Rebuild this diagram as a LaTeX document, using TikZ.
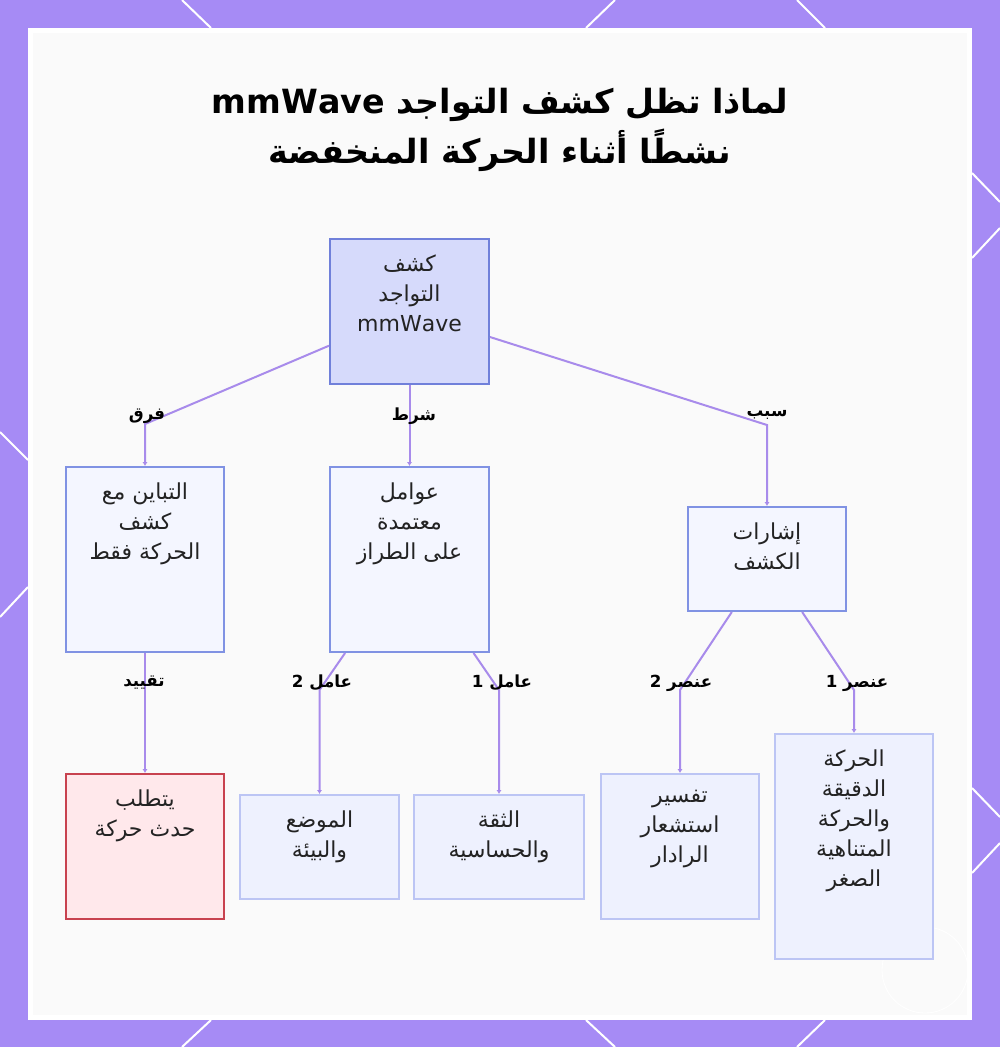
\documentclass[tikz,border=0pt]{standalone}
\usepackage{fontspec}
\setmainfont{DejaVu Sans}
\newfontfamily\arabicfont[Script=Arabic]{DejaVu Sans}
\TeXXeTstate=1
\usepackage{tikz}
\usetikzlibrary{arrows.meta,calc}
\definecolor{frame}{RGB}{166,139,245}
\definecolor{paper}{RGB}{250,250,250}
\definecolor{edgecol}{RGB}{168,139,235}
\definecolor{topfill}{RGB}{214,218,251}
\definecolor{topline}{RGB}{112,128,218}
\definecolor{midfill}{RGB}{244,246,255}
\definecolor{midline}{RGB}{128,146,227}
\definecolor{leaffill}{RGB}{238,241,254}
\definecolor{leafline}{RGB}{188,197,244}
\definecolor{warnfill}{RGB}{255,232,235}
\definecolor{warnline}{RGB}{200,66,79}
\definecolor{ink}{RGB}{35,35,35}
\newcommand{\rl}[1]{\beginR #1\endR}

\begin{document}
\begin{tikzpicture}[x=0.75pt,y=-0.75pt,
  box/.style={line width=1.5pt, inner sep=0pt},
  topbox/.style={box, draw=topline, fill=topfill},
  midbox/.style={box, draw=midline, fill=midfill},
  leafbox/.style={box, draw=leafline, fill=leaffill},
  warnbox/.style={box, draw=warnline, fill=warnfill},
  boxtext/.style={anchor=north, align=center, inner sep=0pt, text=ink,
    font=\arabicfont\fontsize{16.5}{22.5}\selectfont},
  edge/.style={draw=edgecol, line width=1.5pt, -{Latex[length=3pt,width=4pt]}},
  elabel/.style={inner sep=1pt, text=black,
    font=\arabicfont\bfseries\fontsize{12.5}{14}\selectfont}]
\useasboundingbox (0,0) rectangle (1000,1047);

% frame
\fill[frame] (0,0) rectangle (1000,1047);
\foreach \xa/\ya/\xb/\yb in {182/0/211/28, 615/0/586/28, 797/0/825/28,
  211/1020/182/1047, 586/1020/615/1047, 825/1020/797/1047,
  0/432/28/460, 28/587/0/617, 972/173/1000/202, 1000/228/972/258,
  972/788/1000/817, 1000/843/972/873}
  \draw[white, line width=1.5pt] (\xa,\ya) -- (\xb,\yb);
\fill[white] (28,28) rectangle (972,1020);
\fill[paper] (33,33) rectangle (967,1015);
\draw[white, line width=0.6pt] (925,970) circle[radius=43];

% title
\node[align=center, text=black, font=\arabicfont\bfseries\fontsize{25}{37.5}\selectfont] (title) at (500,130)
  {\rl{لماذا تظل كشف التواجد \beginL mmWave\endL}\\ \rl{نشطًا أثناء الحركة المنخفضة}};

% boxes
\node[topbox, minimum width=159*.75pt, minimum height=145*.75pt] (top) at (409.5,311.5) {};
\node[midbox, minimum width=158*.75pt, minimum height=185*.75pt] (diff) at (145,559.5) {};
\node[midbox, minimum width=159*.75pt, minimum height=185*.75pt] (cond) at (409.5,559.5) {};
\node[midbox, minimum width=158*.75pt, minimum height=104*.75pt] (sig) at (767,559) {};
\node[warnbox, minimum width=158*.75pt, minimum height=145*.75pt] (req) at (145,846.5) {};
\node[leafbox, minimum width=159*.75pt, minimum height=104*.75pt] (env) at (319.5,847) {};
\node[leafbox, minimum width=170*.75pt, minimum height=104*.75pt] (conf) at (499,847) {};
\node[leafbox, minimum width=158*.75pt, minimum height=145*.75pt] (radar) at (680,846.5) {};
\node[leafbox, minimum width=158*.75pt, minimum height=225*.75pt] (micro) at (854,846.5) {};

\node[boxtext] (topT) at ([yshift=-12.5pt]top.north) {\rl{كشف}\\ \rl{التواجد}\\ mmWave};
\node[boxtext] (diffT) at ([yshift=-12.5pt]diff.north) {\rl{التباين مع}\\ \rl{كشف}\\ \rl{الحركة فقط}};
\node[boxtext] (condT) at ([yshift=-12.5pt]cond.north) {\rl{عوامل}\\ \rl{معتمدة}\\ \rl{على الطراز}};
\node[boxtext] (sigT) at ([yshift=-12.5pt]sig.north) {\rl{إشارات}\\ \rl{الكشف}};
\node[boxtext] (reqT) at ([yshift=-12.5pt]req.north) {\rl{يتطلب}\\ \rl{حدث حركة}};
\node[boxtext] (envT) at ([yshift=-12.5pt]env.north) {\rl{الموضع}\\ \rl{والبيئة}};
\node[boxtext] (confT) at ([yshift=-12.5pt]conf.north) {\rl{الثقة}\\ \rl{والحساسية}};
\node[boxtext] (radarT) at ([yshift=-12.5pt]radar.north) {\rl{تفسير}\\ \rl{استشعار}\\ \rl{الرادار}};
\node[boxtext] (microT) at ([yshift=-12.5pt]micro.north) {\rl{الحركة}\\ \rl{الدقيقة}\\ \rl{والحركة}\\ \rl{المتناهية}\\ \rl{الصغر}};

% connectors
\coordinate (cDiff) at (145,424);
\coordinate (cSig) at (767,425);
\coordinate (cEnv) at (319.5,690);
\coordinate (cConf) at (499,690);
\coordinate (cRadar) at (680,690);
\coordinate (cMicro) at (854,690);
\draw[edge] (top) -- (cDiff) -- (diff);
\draw[edge] (top) -- (cond);
\draw[edge] (top) -- (cSig) -- (sig);
\draw[edge] (diff) -- (req);
\draw[edge] (cond) -- (cEnv) -- (env);
\draw[edge] (cond) -- (cConf) -- (conf);
\draw[edge] (sig) -- (cRadar) -- (radar);
\draw[edge] (sig) -- (cMicro) -- (micro);

% labels
\node[elabel] (lDiff) at (147,416) {\rl{فرق}};
\node[elabel] (lCond) at (414,416) {\rl{شرط}};
\node[elabel] (lSig) at (767,415) {\rl{سبب}};
\node[elabel] (lReq) at (144,683) {\rl{تقييد}};
\node[elabel] (lEnv) at (322,683) {\rl{عامل 2}};
\node[elabel] (lConf) at (502,683) {\rl{عامل 1}};
\node[elabel] (lRadar) at (681,683) {\rl{عنصر 2}};
\node[elabel] (lMicro) at (857,683) {\rl{عنصر 1}};
\end{tikzpicture}
\end{document}
